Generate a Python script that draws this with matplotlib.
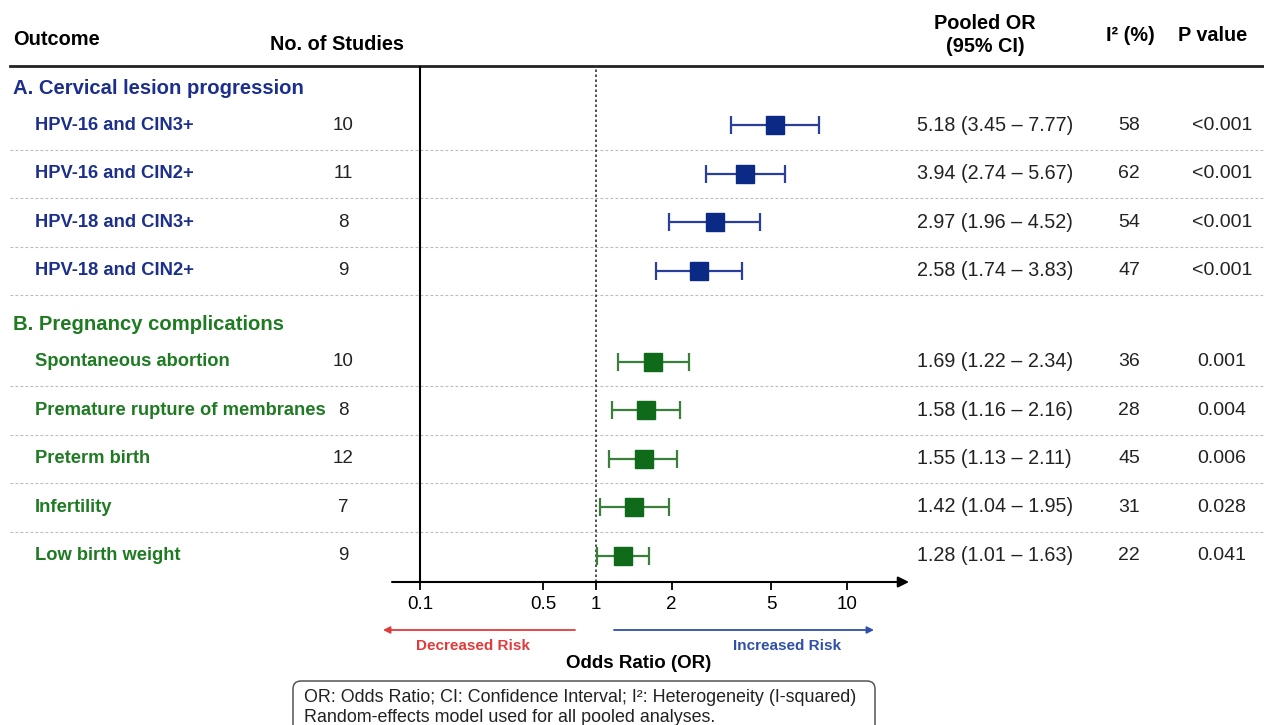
#!/usr/bin/env python3
"""Forest plot: HPV genotype and cervical / pregnancy outcomes."""
import numpy as np
import matplotlib
matplotlib.use("Agg")
import matplotlib.pyplot as plt
from matplotlib.patches import FancyBboxPatch

plt.rcParams["font.family"] = ["Liberation Sans", "DejaVu Sans"]

# data
sections = ["A. Cervical lesion progression", "B. Pregnancy complications"]
outcomes_a = ["HPV-16 and CIN3+", "HPV-16 and CIN2+", "HPV-18 and CIN3+", "HPV-18 and CIN2+"]
outcomes_b = ["Spontaneous abortion", "Premature rupture of membranes", "Preterm birth",
              "Infertility", "Low birth weight"]
n_studies_a = [10, 11, 8, 9]
n_studies_b = [10, 8, 12, 7, 9]
or_a = [5.18, 3.94, 2.97, 2.58]
lo_a = [3.45, 2.74, 1.96, 1.74]
hi_a = [7.77, 5.67, 4.52, 3.83]
or_b = [1.69, 1.58, 1.55, 1.42, 1.28]
lo_b = [1.22, 1.16, 1.13, 1.04, 1.01]
hi_b = [2.34, 2.16, 2.11, 1.95, 1.63]
i2_a = [58, 62, 54, 47]
i2_b = [36, 28, 45, 31, 22]
p_a = ["<0.001", "<0.001", "<0.001", "<0.001"]
p_b = ["0.001", "0.004", "0.006", "0.028", "0.041"]
ticks = [0.1, 0.5, 1, 2, 5, 10]

BLUE_TXT, BLUE_MK, BLUE_LN = "#1c2f8c", "#0a2a85", "#2a3f99"
GREEN_TXT, GREEN_MK, GREEN_LN = "#1e7b22", "#0f6b1a", "#3a7f3a"

W, H = 1264, 725
fig = plt.figure(figsize=(W / 100, H / 100), dpi=100)

# background axes in pixel coords for the table text
bg = fig.add_axes([0, 0, 1, 1])
bg.set_xlim(0, W); bg.set_ylim(H, 0); bg.axis("off")

# forest axes
AX_L, AX_R, AX_TOP, AX_BOT = 392, 909, 66, 582
ax = fig.add_axes([AX_L / W, 1 - AX_BOT / H, (AX_R - AX_L) / W, (AX_BOT - AX_TOP) / H])
ax.patch.set_alpha(0)


def fwd(x):
    lx = np.log10(np.clip(x, 1e-6, None))
    return np.where(lx >= 0, lx, 0.7 * lx)


def inv(u):
    return np.where(u >= 0, 10 ** u, 10 ** (u / 0.7))


ax.set_xscale("function", functions=(fwd, inv))
ax.set_xlim(inv(np.array((AX_L - 596) / 251)), inv(np.array((AX_R - 596) / 251)))
ax.set_ylim(AX_BOT, AX_TOP)
for s in ["top", "right", "left", "bottom"]:
    ax.spines[s].set_visible(False)
ax.set_yticks([])
ax.set_xticks(ticks)
ax.set_xticklabels([str(t) for t in ticks], fontsize=13.5)
ax.xaxis.set_minor_locator(matplotlib.ticker.NullLocator())
ax.tick_params(axis="x", length=6, width=1.3, pad=4, direction="out")
ax.annotate("", xy=(1, 0), xytext=(0, 0), xycoords="axes fraction",
            arrowprops=dict(arrowstyle="-|>", color="black", lw=1.5,
                            mutation_scale=16, shrinkA=0, shrinkB=0),
            annotation_clip=False)
ax.axvline(0.1, color="black", lw=1.5)
ax.axvline(1, color="#333333", lw=1.2, ls=(0, (1.5, 1.5)))

# header
bg.text(13, 39, "Outcome", fontsize=14.4, fontweight="bold", va="center")
bg.text(270, 44, "No. of Studies", fontsize=14.3, fontweight="bold", va="center")
bg.text(985, 35, "Pooled OR\n(95% CI)", fontsize=14.3, fontweight="bold",
        va="center", ha="center", linespacing=1.25)
bg.text(1130, 35, "I² (%)", fontsize=14.3, fontweight="bold", va="center", ha="center")
bg.text(1213, 35, "P value", fontsize=14.3, fontweight="bold", va="center", ha="center")
bg.plot([10, W], [66, 66], color="#222222", lw=2)

groups = [
    (sections[0], outcomes_a, n_studies_a, or_a, lo_a, hi_a, i2_a, p_a,
     BLUE_TXT, BLUE_MK, BLUE_LN),
    (sections[1], outcomes_b, n_studies_b, or_b, lo_b, hi_b, i2_b, p_b,
     GREEN_TXT, GREEN_MK, GREEN_LN),
]

title_y = 88
for gi, (title, names, ns, ors, los, his, i2s, ps, ctxt, cmk, cln) in enumerate(groups):
    bg.text(13, title_y, title, fontsize=14.6, fontweight="bold", color=ctxt, va="center")
    ys = title_y + 37 + 48.5 * np.arange(len(names))
    for k, y in enumerate(ys):
        bg.text(35, y, names[k], fontsize=13.2, fontweight="bold", color=ctxt, va="center")
        bg.text(343, y, str(ns[k]), fontsize=13.5, va="center", ha="center", color="#222222")
        bg.text(917, y, f"{ors[k]:.2f} ({los[k]:.2f} – {his[k]:.2f})", fontsize=14.2,
                va="center", color="#222222")
        bg.text(1129, y, str(i2s[k]), fontsize=14, va="center", ha="center", color="#222222")
        bg.text(1222, y, ps[k], fontsize=14, va="center", ha="center", color="#222222")
        if not (gi == len(groups) - 1 and k == len(names) - 1):
            bg.plot([10, W], [y + 24.5, y + 24.5], color="#bbbbbb", lw=0.8,
                    ls=(0, (2.5, 2)))
    ors = np.array(ors)
    ax.errorbar(ors, ys, xerr=[ors - np.array(los), np.array(his) - ors], fmt="s",
                color=cln, ecolor=cln, elinewidth=1.6, capsize=6.5, capthick=1.6,
                markersize=12.5, markerfacecolor=cmk, markeredgecolor=cmk, zorder=3)
    title_y = ys[-1] + 54

# direction arrows and axis title
bg.annotate("", xy=(383, 630), xytext=(575, 630),
            arrowprops=dict(arrowstyle="-|>", color="#e03a3a", lw=1.3,
                            mutation_scale=10, shrinkA=0, shrinkB=0))
bg.annotate("", xy=(874, 630), xytext=(614, 630),
            arrowprops=dict(arrowstyle="-|>", color="#2f4fa8", lw=1.3,
                            mutation_scale=10, shrinkA=0, shrinkB=0))
bg.text(473, 646, "Decreased Risk", fontsize=11, fontweight="bold", color="#e03a3a",
        ha="center", va="center")
bg.text(787, 646, "Increased Risk", fontsize=11, fontweight="bold", color="#2f4fa8",
        ha="center", va="center")
bg.text(639, 664, "Odds Ratio (OR)", fontsize=13.5, fontweight="bold",
        ha="center", va="center")

# footnote box
box = FancyBboxPatch((293, 681), 582, 60, boxstyle="round,pad=0,rounding_size=8",
                     fc="white", ec="#555555", lw=1.1, clip_on=False)
bg.add_patch(box)
bg.text(304, 698, "OR: Odds Ratio; CI: Confidence Interval; I²: Heterogeneity (I-squared)",
        fontsize=12.9, va="center", color="#222222")
bg.text(304, 718, "Random-effects model used for all pooled analyses.",
        fontsize=12.9, va="center", color="#222222")

fig.savefig("out.png", dpi=100)
print("Saved out.png")
